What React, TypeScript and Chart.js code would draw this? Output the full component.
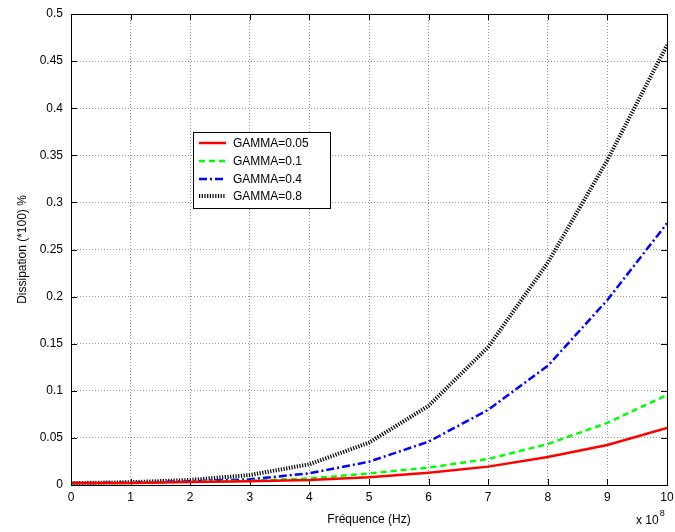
import React, { useEffect, useRef } from "react";
import { Chart, registerables } from "chart.js";

Chart.register(...registerables);

const frequencies = [0, 1, 2, 3, 4, 5, 6, 7, 8, 9, 10];
const gamma005 = [0.002, 0.0022, 0.0032, 0.004, 0.0053, 0.0082, 0.013, 0.0195, 0.0298, 0.0425, 0.0605];
const gamma01 = [0.002, 0.0022, 0.0033, 0.0045, 0.007, 0.0122, 0.0185, 0.0276, 0.0435, 0.066, 0.0955];
const gamma04 = [0.002, 0.0025, 0.004, 0.006, 0.0124, 0.0247, 0.046, 0.0798, 0.1265, 0.1964, 0.2778];
const gamma08 = [0.002, 0.003, 0.0053, 0.0106, 0.022, 0.045, 0.084, 0.1465, 0.236, 0.345, 0.467];
const seriesLabels = ["GAMMA=0.05", "GAMMA=0.1", "GAMMA=0.4", "GAMMA=0.8"];
const xTitle = "Fréquence (Hz)";
const yTitle = "Dissipation (*100) %";
const xExponentBase = "x 10";
const xExponent = "8";

const FONT = "'Liberation Sans', Arial, Helvetica, sans-serif";

const styles = [
  { color: "#ff0000", dash: [] as number[], width: 2.5 },
  { color: "#00ff00", dash: [6, 4], width: 2.5 },
  { color: "#0000ff", dash: [8, 3, 2, 3], width: 2.5 },
  { color: "#000000", dash: [1.2, 1.5], width: 4 },
];

const decorPlugin = {
  id: "matlabDecor",
  beforeDatasetsDraw(chart: any) {
    const { ctx, chartArea } = chart;
    const { left, right, top, bottom } = chartArea;
    const xs = chart.scales.x;
    const ys = chart.scales.y;
    ctx.save();
    ctx.strokeStyle = "#000";
    ctx.lineWidth = 1;
    ctx.setLineDash([]);
    ctx.beginPath();
    xs.ticks.forEach((t: any) => {
      const px = Math.round(xs.getPixelForValue(t.value)) + 0.5;
      ctx.moveTo(px, bottom);
      ctx.lineTo(px, bottom - 6);
      ctx.moveTo(px, top);
      ctx.lineTo(px, top + 6);
    });
    ys.ticks.forEach((t: any) => {
      const py = Math.round(ys.getPixelForValue(t.value)) + 0.5;
      ctx.moveTo(left, py);
      ctx.lineTo(left + 6, py);
      ctx.moveTo(right, py);
      ctx.lineTo(right - 6, py);
    });
    ctx.stroke();
    ctx.restore();
  },
  afterDatasetsDraw(chart: any) {
    const { ctx, chartArea } = chart;
    const { left, right, top, bottom } = chartArea;
    ctx.save();
    ctx.strokeStyle = "#000";
    ctx.lineWidth = 1;
    ctx.setLineDash([]);
    ctx.strokeRect(Math.round(left) + 0.5, Math.round(top) + 0.5, Math.round(right - left), Math.round(bottom - top));

    // legend
    const bx = 193.5, by = 132.5, bw = 137, bh = 76;
    ctx.fillStyle = "#fff";
    ctx.fillRect(bx, by, bw, bh);
    ctx.strokeRect(bx, by, bw, bh);
    ctx.font = `12px ${FONT}`;
    ctx.textBaseline = "middle";
    ctx.textAlign = "left";
    const rows = [143, 161, 179, 196];
    seriesLabels.forEach((lab, i) => {
      const s = styles[i];
      ctx.strokeStyle = s.color;
      ctx.lineWidth = s.width;
      ctx.setLineDash(s.dash);
      ctx.beginPath();
      ctx.moveTo(199, rows[i]);
      ctx.lineTo(226, rows[i]);
      ctx.stroke();
      ctx.setLineDash([]);
      ctx.fillStyle = "#000";
      ctx.fillText(lab, 233, rows[i] + 1);
    });

    // exponent
    ctx.fillStyle = "#000";
    ctx.font = `12px ${FONT}`;
    ctx.textBaseline = "alphabetic";
    const baseW = ctx.measureText(xExponentBase).width;
    const ex = 636;
    ctx.fillText(xExponentBase, ex, 524);
    ctx.font = `9px ${FONT}`;
    ctx.fillText(xExponent, ex + baseW + 1, 516);
    ctx.restore();
  },
};

function fmt(v: number) {
  return String(Number(v.toFixed(3)));
}

export default function App() {
  const ref = useRef<HTMLCanvasElement | null>(null);
  useEffect(() => {
    if (!ref.current) return;
    const all = [gamma005, gamma01, gamma04, gamma08];
    const chart = new Chart(ref.current, {
      type: "line",
      data: {
        datasets: all.map((arr, i) => ({
          label: seriesLabels[i],
          data: frequencies.map((f, j) => ({ x: f, y: arr[j] })),
          borderColor: styles[i].color,
          borderWidth: styles[i].width,
          borderDash: styles[i].dash,
          borderCapStyle: "butt",
          pointRadius: 0,
          tension: 0,
          fill: false,
        })),
      },
      options: {
        responsive: false,
        animation: false,
        layout: { padding: { left: 0, top: 14, right: 8, bottom: 0 } },
        plugins: { legend: { display: false }, tooltip: { enabled: false } },
        scales: {
          x: {
            type: "linear",
            min: 0,
            max: 10,
            afterFit: (s: any) => { s.height = 47; s.paddingLeft = 0; s.paddingRight = 0; },
            ticks: {
              stepSize: 1,
              padding: 5,
              color: "#000",
              font: { family: FONT, size: 12 },
              callback: (v: any) => fmt(Number(v)),
            },
            grid: {
              color: "#9a9a9a",
              lineWidth: 1,
              drawTicks: false,
            },
            border: { display: false, dash: [1, 2] },
            title: {
              display: true,
              text: xTitle,
              color: "#000",
              font: { family: FONT, size: 12 },
              padding: { top: 0, bottom: 5 },
            },
          },
          y: {
            type: "linear",
            min: 0,
            max: 0.5,
            afterFit: (s: any) => { s.width = 71; s.paddingTop = 0; s.paddingBottom = 0; },
            ticks: {
              stepSize: 0.05,
              padding: 8,
              color: "#000",
              font: { family: FONT, size: 12 },
              callback: (v: any) => fmt(Number(v)),
            },
            grid: {
              color: "#9a9a9a",
              lineWidth: 1,
              drawTicks: false,
            },
            border: { display: false, dash: [1, 2] },
            title: {
              display: true,
              text: yTitle,
              color: "#000",
              font: { family: FONT, size: 12 },
              padding: { top: 15, bottom: 0 },
            },
          },
        },
      },
      plugins: [decorPlugin],
    } as any);
    return () => chart.destroy();
  }, []);
  return (
    <div style={{ position: "fixed", left: 0, top: 0, width: 675, height: 532, background: "#fff" }}>
      <canvas ref={ref} width={675} height={532} style={{ width: 675, height: 532, display: "block" }} />
    </div>
  );
}
